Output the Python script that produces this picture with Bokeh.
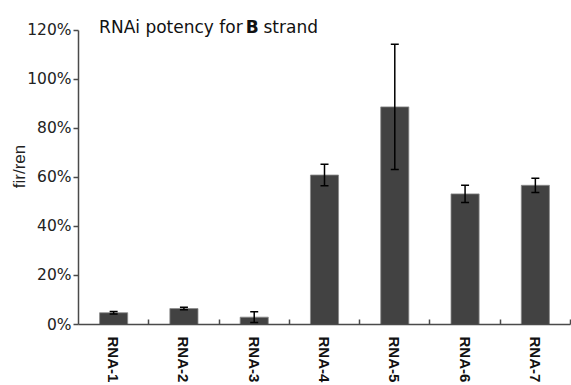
from bokeh.plotting import figure
from bokeh.models import (ColumnDataSource, Whisker, TeeHead, LinearAxis, FixedTicker,
                          PrintfTickFormatter, Range1d, Label)
from bokeh.embed import file_html
from bokeh.resources import INLINE

categories = ["RNA-1", "RNA-2", "RNA-3", "RNA-4", "RNA-5", "RNA-6", "RNA-7"]
values = [4.8, 6.5, 3.0, 61.0, 88.8, 53.3, 56.8]
errors = [0.5, 0.5, 2.2, 4.4, 25.6, 3.5, 2.9]
y_ticks = [0, 20, 40, 60, 80, 100, 120]

pos = [i + 0.5 for i in range(len(categories))]
bounds = list(range(1, len(categories) + 1))
src = ColumnDataSource(dict(
    x=pos, top=values,
    upper=[v + e for v, e in zip(values, errors)],
    lower=[v - e for v, e in zip(values, errors)],
))

p = figure(width=571, height=385, output_backend="svg", toolbar_location=None,
           x_range=Range1d(0, len(categories)), y_range=Range1d(0, 128.95),
           min_border_left=78, min_border_right=1, min_border_top=8, min_border_bottom=60,
           x_axis_type=None, y_axis_type=None)
p.outline_line_color = None
p.xgrid.visible = False
p.ygrid.visible = False

p.vbar(x="x", top="top", width=0.4, bottom=0, source=src,
       fill_color="#424242", line_color="#8a8a8a", line_width=0.8)

w = Whisker(base="x", upper="upper", lower="lower", source=src, level="annotation",
            line_color="black", line_width=1.5,
            upper_head=TeeHead(size=8, line_color="black", line_width=1.5),
            lower_head=TeeHead(size=8, line_color="black", line_width=1.5))
p.add_layout(w)

# y axis
yax = LinearAxis(ticker=FixedTicker(ticks=y_ticks), bounds=(0, 120),
                 formatter=PrintfTickFormatter(format="%d%%"))
yax.axis_line_color = "#4a4a4a"
yax.axis_line_width = 1.5
yax.major_tick_line_color = "#4a4a4a"
yax.major_tick_line_width = 1.5
yax.major_tick_out = 5
yax.major_tick_in = 0
yax.minor_tick_line_color = None
yax.major_label_text_font = "DejaVu Sans"
yax.major_label_text_font_size = "15.5px"
yax.major_label_text_color = "#222222"
yax.major_label_standoff = 2
yax.axis_label = "fir/ren"
yax.axis_label_text_font = "Liberation Sans"
yax.axis_label_text_font_style = "normal"
yax.axis_label_text_font_size = "17px"
yax.axis_label_text_color = "#222222"
yax.axis_label_standoff = -5
p.add_layout(yax, "left")

# x axis: labels at category centres, small inward ticks at category boundaries
xax = LinearAxis(ticker=FixedTicker(ticks=pos, minor_ticks=bounds),
                 major_label_overrides={x: c for x, c in zip(pos, categories)})
xax.axis_line_color = "#4a4a4a"
xax.axis_line_width = 1.5
xax.major_tick_line_color = None
xax.major_tick_in = 0
xax.major_tick_out = 0
xax.minor_tick_line_color = "#4a4a4a"
xax.minor_tick_line_width = 1.5
xax.minor_tick_in = 5
xax.minor_tick_out = 0
xax.major_label_orientation = "vertical"
xax.major_label_text_font = "Liberation Sans"
xax.major_label_text_font_style = "bold"
xax.major_label_text_font_size = "15px"
xax.major_label_text_color = "#111111"
xax.major_label_standoff = 12
p.add_layout(xax, "below")

# title pieces
for txt, off, style in [("RNAi potency for", 20.6, "normal"), ("B", 167.3, "bold"), ("strand", 185.0, "normal")]:
    p.add_layout(Label(x=0, y=120, x_offset=off, y_offset=3, text=txt,
                       text_font="DejaVu Sans", text_font_style=style,
                       text_font_size="17px", text_color="#111111",
                       text_baseline="alphabetic", text_align="left"))

open("out.html", "w").write(file_html(p, INLINE))
